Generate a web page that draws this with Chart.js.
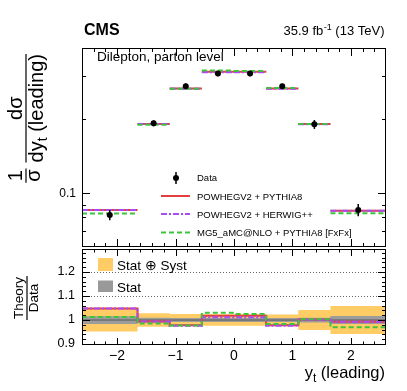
<!DOCTYPE html>
<html><head><meta charset="utf-8">
<script src="https://cdn.jsdelivr.net/npm/chart.js@4.4.1/dist/chart.umd.min.js"></script>
<style>
html,body{margin:0;padding:0;background:#fff;}
#wrap{position:relative;width:407px;height:391px;overflow:hidden;background:#fff;}
canvas{position:absolute;left:0;}
</style></head><body>
<div id="wrap">
<canvas id="cTop" width="407" height="250" style="top:0px"></canvas>
<canvas id="cBot" width="407" height="151" style="top:240px"></canvas>
</div>
<script>
// ---------------- data ----------------
const binEdges = [-2.6, -1.65, -1.1, -0.55, 0, 0.55, 1.1, 1.65, 2.6];
const dataValues = [0.0817, 0.1926, 0.2727, 0.307, 0.307, 0.2727, 0.1908, 0.0856];
const totUnc  = [0.048, 0.028, 0.025, 0.024, 0.024, 0.023, 0.042, 0.058];   // relative
const statUnc = [0.016, 0.010, 0.008, 0.008, 0.008, 0.008, 0.010, 0.017];   // relative
const powhegPythia = [0.0856, 0.1914, 0.2667, 0.3125, 0.3125, 0.2667, 0.1912, 0.0850];
const powhegHerwig = [0.0856, 0.1914, 0.2662, 0.3107, 0.3107, 0.2662, 0.1910, 0.0850];
const mg5Pythia    = [0.0827, 0.1899, 0.2664, 0.3162, 0.3147, 0.2681, 0.1914, 0.0830];
const xTickValues = [-2, -1, 0, 1, 2];
const xTickLabels = ['\u22122', '\u22121', '0', '1', '2'];
const topTickValues = [0.1];
const topTickLabels = ['0.1'];
const ratioTickValues = [0.9, 1, 1.1, 1.2];
const ratioTickLabels = ['0.9', '1', '1.1', '1.2'];
const ratioGridValues = [0.9, 1.1, 1.2];
const seriesNames = ['POWHEGV2 + PYTHIA8', 'POWHEGV2 + HERWIG++', 'MG5_aMC@NLO + PYTHIA8 [FxFx]'];

// ---------------- style ----------------
const FONT = "'Liberation Sans', Arial, Helvetica, sans-serif";
const RED = '#e2403f', PURPLE = '#a84cf5', GREEN = '#3cc43c';
const YELLOW = '#ffcc66', GRAY = '#9c9c9c';
const DASH_PURPLE = [6, 2, 2, 2], DASH_GREEN = [5, 3];
Chart.defaults.font.family = FONT;
Chart.defaults.color = '#000';

const centers = dataValues.map((v, i) => (binEdges[i] + binEdges[i + 1]) / 2);
function segData(vals) {
  const out = [];
  vals.forEach((v, i) => { out.push({x: binEdges[i], y: v}, {x: binEdges[i + 1], y: v}, {x: binEdges[i + 1], y: null}); });
  return out;
}
function stepData(vals) {
  const out = vals.map((v, i) => ({x: binEdges[i], y: v}));
  out.push({x: binEdges[binEdges.length - 1], y: vals[vals.length - 1]});
  return out;
}
const ratio = (th) => th.map((v, i) => v / dataValues[i]);
const noPad = s => { s.paddingTop = 0; s.paddingBottom = 0; s.paddingLeft = 0; s.paddingRight = 0; };

function xTickList() {
  const l = [];
  for (let k = -13; k <= 13; k++) l.push({v: k * 0.2, major: k % 5 === 0});
  return l;
}
function drawFrame(ctx, a) {
  ctx.strokeStyle = '#000'; ctx.lineWidth = 1; ctx.setLineDash([]);
  ctx.strokeRect(Math.round(a.left) + 0.5, Math.round(a.top) + 0.5, Math.round(a.right) - Math.round(a.left) - 1, Math.round(a.bottom) - Math.round(a.top) - 1);
}
function hLine(ctx, x1, x2, y) { ctx.beginPath(); ctx.moveTo(x1, y); ctx.lineTo(x2, y); ctx.stroke(); }
function vLine(ctx, x, y1, y2) { ctx.beginPath(); ctx.moveTo(x, y1); ctx.lineTo(x, y2); ctx.stroke(); }

function drawXTicks(ctx, a, xs, majL, minL) {
  ctx.strokeStyle = '#000'; ctx.lineWidth = 1; ctx.setLineDash([]);
  xTickList().forEach(t => {
    const px = Math.round(xs.getPixelForValue(t.v)) + 0.5;
    if (px < a.left + 1 || px > a.right - 1) return;
    const L = t.major ? majL : minL;
    vLine(ctx, px, a.bottom, a.bottom - L);
    vLine(ctx, px, a.top, a.top + L);
  });
}
function drawYTicks(ctx, a, ys, list, majL, minL) {
  ctx.strokeStyle = '#000'; ctx.lineWidth = 1; ctx.setLineDash([]);
  list.forEach(t => {
    const py = Math.round(ys.getPixelForValue(t.v)) + 0.5;
    if (py < a.top + 1 || py > a.bottom - 1) return;
    const L = t.major ? majL : minL;
    hLine(ctx, a.left, a.left + L, py);
    hLine(ctx, a.right, a.right - L, py);
  });
}

// ---------------- upper panel ----------------
const upperPlugin = {
  id: 'upperDecor',
  afterDatasetsDraw(chart) {
    const {ctx, scales: {x, y}} = chart;
    ctx.save();
    ctx.strokeStyle = '#000'; ctx.lineWidth = 1.5; ctx.setLineDash([]);
    dataValues.forEach((v, i) => {
      const px = x.getPixelForValue(centers[i]);
      vLine(ctx, px, y.getPixelForValue(v * (1 + totUnc[i])), y.getPixelForValue(v * (1 - totUnc[i])));
    });
    ctx.restore();
  },
  afterDraw(chart) {
    const {ctx, chartArea: a, scales: {x, y}} = chart;
    ctx.save();
    drawFrame(ctx, a);
    drawXTicks(ctx, a, x, 8, 4);
    const yl = [0.06, 0.07, 0.08, 0.09, 0.2, 0.3].map(v => ({v, major: false})).concat([{v: 0.1, major: true}]);
    drawYTicks(ctx, a, y, yl, 8, 4);

    // header
    ctx.fillStyle = '#000';
    ctx.textBaseline = 'alphabetic';
    ctx.textAlign = 'left';
    ctx.font = `bold 16px ${FONT}`;
    ctx.fillText('CMS', 84, 35);
    const p1 = '35.9 fb', p3 = ' (13 TeV)';
    ctx.font = `13px ${FONT}`; const w1 = ctx.measureText(p1).width, w3 = ctx.measureText(p3).width;
    ctx.font = `9px ${FONT}`; const w2 = ctx.measureText('-1').width;
    let xs = 384 - w1 - w2 - w3;
    ctx.font = `13px ${FONT}`; ctx.fillText(p1, xs, 35);
    ctx.font = `9px ${FONT}`; ctx.fillText('-1', xs + w1 + 0.5, 30);
    ctx.font = `13px ${FONT}`; ctx.fillText(p3, xs + w1 + w2 + 0.5, 35);

    ctx.font = `13.5px ${FONT}`;
    ctx.fillText('Dilepton, parton level', 97, 61);

    // legend
    ctx.font = `9.5px ${FONT}`;
    ctx.fillText('Data', 197, 181);
    ctx.beginPath(); ctx.arc(176, 178, 3, 0, 2 * Math.PI); ctx.fill();
    ctx.strokeStyle = '#000'; ctx.lineWidth = 1.5; vLine(ctx, 176, 172, 184);
    const legY = [196, 214, 232.5];
    const cols = [RED, PURPLE, GREEN], dashes = [[], DASH_PURPLE, DASH_GREEN];
    for (let k = 0; k < 3; k++) {
      ctx.strokeStyle = cols[k]; ctx.lineWidth = 2; ctx.setLineDash(dashes[k]);
      hLine(ctx, 161, 190, legY[k]);
      ctx.setLineDash([]);
      ctx.fillText(seriesNames[k], 197, legY[k] + 3.7);
    }

    // y title (rotated)
    const F = 20, FS = 14;
    ctx.font = `${F}px ${FONT}`;
    const wOne = ctx.measureText('1').width;
    const wSig = ctx.measureText('\u03c3').width;
    const wf1 = Math.max(wOne, wSig) + 2;
    const wdy = ctx.measureText('dy').width;
    ctx.font = `${FS}px ${FONT}`; const wt = ctx.measureText('t').width;
    ctx.font = `${F}px ${FONT}`; const wlead = ctx.measureText(' (leading)').width;
    const wden = wdy + wt + wlead;
    const gap = 6;
    const total = wf1 + gap + wden;
    const yStart = 52 + total + 2, xBar = 26;
    ctx.translate(xBar, yStart); ctx.rotate(-Math.PI / 2);
    ctx.strokeStyle = '#000'; ctx.lineWidth = 1.2;
    ctx.textAlign = 'center';
    ctx.fillText('1', wf1 / 2, -4);
    ctx.fillText('\u03c3', wf1 / 2, 14);
    hLine(ctx, 0, wf1, 0);
    const u0 = wf1 + gap;
    hLine(ctx, u0, u0 + wden, 0);
    ctx.fillText('d\u03c3', u0 + wden / 2, -4);
    ctx.textAlign = 'left';
    ctx.fillText('dy', u0, 17);
    ctx.font = `${FS}px ${FONT}`; ctx.fillText('t', u0 + wdy, 21);
    ctx.font = `${F}px ${FONT}`; ctx.fillText(' (leading)', u0 + wdy + wt, 17);
    ctx.restore();
  }
};

new Chart(document.getElementById('cTop'), {
  type: 'scatter',
  data: {
    datasets: [
      {label: 'Data', data: centers.map((c, i) => ({x: c, y: dataValues[i]})), pointRadius: 3, pointHoverRadius: 3,
       backgroundColor: '#000', borderColor: '#000', borderWidth: 0, showLine: false},
      {label: seriesNames[2], data: segData(mg5Pythia), showLine: true, spanGaps: false, borderColor: GREEN, borderWidth: 2, borderDash: DASH_GREEN, pointRadius: 0},
      {label: seriesNames[1], data: segData(powhegHerwig), showLine: true, spanGaps: false, borderColor: PURPLE, borderWidth: 2, borderDash: DASH_PURPLE, pointRadius: 0},
      {label: seriesNames[0], data: segData(powhegPythia), showLine: true, spanGaps: false, borderColor: RED, borderWidth: 2, pointRadius: 0}
    ]
  },
  options: {
    responsive: false, animation: false, devicePixelRatio: 1,
    layout: {padding: {left: 0, right: 21, top: 48, bottom: 1}},
    plugins: {legend: {display: false}, tooltip: {enabled: false}},
    scales: {
      x: {type: 'linear', min: -2.6, max: 2.6, display: false},
      y: {type: 'logarithmic', min: 0.0605, max: 0.39,
          afterFit: s => { s.width = 82; noPad(s); },
          afterBuildTicks: s => { s.ticks = topTickValues.map(v => ({value: v})); },
          ticks: {callback: (v, i) => topTickLabels[i], font: {size: 12}, color: '#000', padding: 6, autoSkip: false},
          grid: {display: false, drawTicks: false}, border: {display: false}}
    }
  },
  plugins: [upperPlugin]
});

// ---------------- ratio panel ----------------
const lowerPlugin = {
  id: 'lowerDecor',
  beforeDatasetsDraw(chart) {
    const {ctx, chartArea: a, scales: {y}} = chart;
    ctx.save();
    ctx.strokeStyle = '#666'; ctx.lineWidth = 1; ctx.setLineDash([1, 2]);
    ratioGridValues.forEach(v => { const py = Math.round(y.getPixelForValue(v)) + 0.5; hLine(ctx, a.left, a.right, py); });
    ctx.restore();
  },
  afterDraw(chart) {
    const {ctx, chartArea: a, scales: {x, y}} = chart;
    ctx.save();
    drawFrame(ctx, a);
    drawXTicks(ctx, a, x, 7, 3.5);
    const yl = [];
    for (let k = 45; k <= 64; k++) yl.push({v: k * 0.02, major: k % 5 === 0});
    drawYTicks(ctx, a, y, yl, 8, 4);

    // legend
    ctx.fillStyle = YELLOW; ctx.fillRect(98, 18, 15, 13);
    ctx.fillStyle = '#999'; ctx.fillRect(98, 40.5, 15, 11.5);
    ctx.fillStyle = '#000'; ctx.font = `13.5px ${FONT}`; ctx.textAlign = 'left'; ctx.textBaseline = 'alphabetic';
    ctx.fillText('Stat \u2295 Syst', 117, 29.5);
    ctx.fillText('Stat', 117, 51.5);

    // x title
    ctx.font = `16.5px ${FONT}`;
    const wy = ctx.measureText('y').width;
    const wl = ctx.measureText(' (leading)').width;
    ctx.font = `12px ${FONT}`; const wt = ctx.measureText('t').width;
    const xs = 385 - wy - wt - wl;
    ctx.font = `16.5px ${FONT}`; ctx.fillText('y', xs, 137.5);
    ctx.font = `12px ${FONT}`; ctx.fillText('t', xs + wy, 141.5);
    ctx.font = `16.5px ${FONT}`; ctx.fillText(' (leading)', xs + wy + wt, 137.5);

    // y title: Theory / Data
    ctx.translate(27, 58); ctx.rotate(-Math.PI / 2);
    ctx.font = `13.5px ${FONT}`; ctx.textAlign = 'center';
    const wT = ctx.measureText('Theory').width;
    ctx.fillText('Theory', 0, -4);
    ctx.fillText('Data', 0, 11);
    ctx.strokeStyle = '#000'; ctx.lineWidth = 1.2; ctx.setLineDash([]);
    hLine(ctx, -wT / 2 - 1, wT / 2 + 1, 0);
    ctx.restore();
  }
};

const totHi = totUnc.map(u => 1 + u), totLo = totUnc.map(u => 1 - u);
const statHi = statUnc.map(u => 1 + u), statLo = statUnc.map(u => 1 - u);
const stepDs = (vals, extra) => Object.assign({data: stepData(vals), showLine: true, stepped: true, pointRadius: 0, borderWidth: 0, fill: false}, extra);

new Chart(document.getElementById('cBot'), {
  type: 'scatter',
  data: {
    datasets: [
      stepDs(ratio(mg5Pythia), {borderColor: GREEN, borderWidth: 2, borderDash: DASH_GREEN}),
      stepDs(ratio(powhegHerwig), {borderColor: PURPLE, borderWidth: 2, borderDash: DASH_PURPLE}),
      stepDs(ratio(powhegPythia), {borderColor: RED, borderWidth: 2}),
      {data: [{x: -2.6, y: 1}, {x: 2.6, y: 1}], showLine: true, pointRadius: 0, borderColor: '#555', borderWidth: 1},
      stepDs(statHi, {fill: '+1', backgroundColor: GRAY}),
      stepDs(statLo, {}),
      stepDs(totHi, {fill: '+1', backgroundColor: YELLOW}),
      stepDs(totLo, {})
    ]
  },
  options: {
    responsive: false, animation: false, devicePixelRatio: 1,
    layout: {padding: {left: 0, right: 21, top: 9, bottom: 0}},
    plugins: {legend: {display: false}, tooltip: {enabled: false}},
    scales: {
      x: {type: 'linear', min: -2.6, max: 2.6,
          afterFit: s => { s.height = 46; noPad(s); },
          afterBuildTicks: s => { s.ticks = xTickValues.map(v => ({value: v})); },
          ticks: {callback: (v, i) => xTickLabels[i], font: {size: 14}, color: '#000', padding: 3, maxRotation: 0, autoSkip: false},
          grid: {display: false, drawTicks: false}, border: {display: false}},
      y: {type: 'linear', min: 0.896, max: 1.296,
          afterFit: s => { s.width = 82; noPad(s); },
          afterBuildTicks: s => { s.ticks = ratioTickValues.map(v => ({value: v})); },
          ticks: {callback: (v, i) => ratioTickLabels[i], font: {size: 12.5}, color: '#000', padding: 7, autoSkip: false},
          grid: {display: false, drawTicks: false}, border: {display: false}}
    }
  },
  plugins: [lowerPlugin]
});
</script>
</body></html>
